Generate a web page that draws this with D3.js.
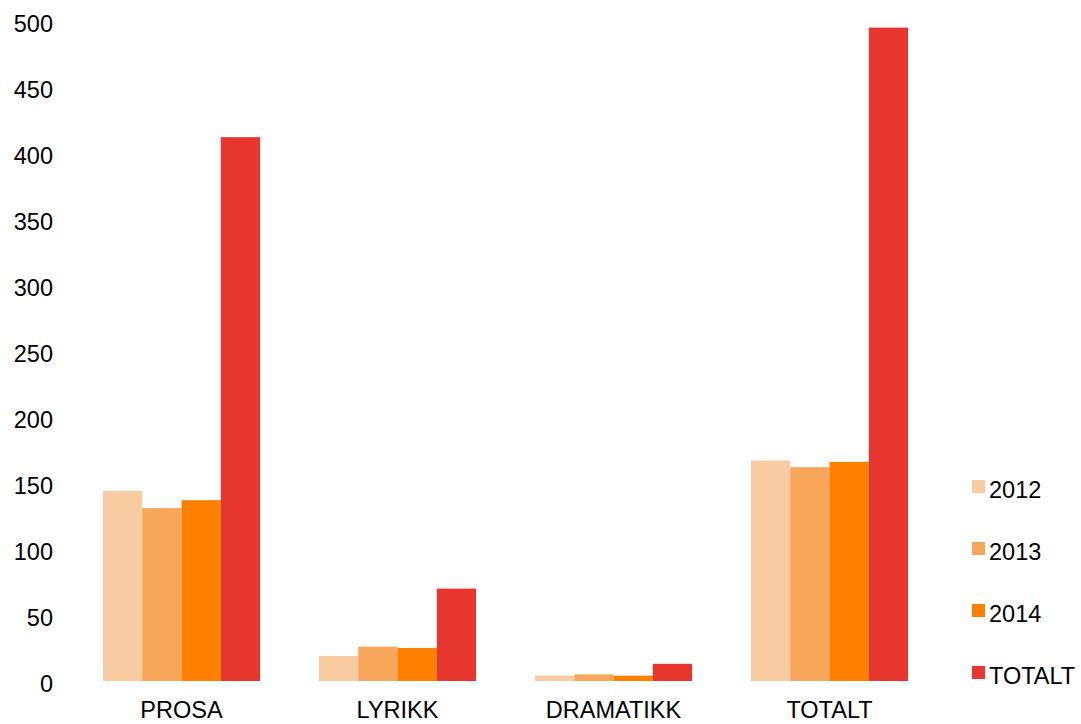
<!DOCTYPE html>
<html lang='en'>
	<head>
		<meta charset='utf-8'>
		<title>Sjanger per år</title>
		<script src="https://d3js.org/d3.v7.min.js"></script>
		<style>
			body { margin: 0; background: #fff; }
			svg text { font-family: "Liberation Sans", Arial, sans-serif; fill: #000; }
		</style>
	</head>
	<body>
		<div id="chart"></div>
		<script>
			// data
			var categories = ['PROSA', 'LYRIKK', 'DRAMATIKK', 'TOTALT'];
			var seriesNames = ['2012', '2013', '2014', 'TOTALT'];
			var v2012 = [144, 19, 4, 167];
			var v2013 = [131, 26, 5, 162];
			var v2014 = [137, 25, 4, 166];
			var vTotal = [412, 70, 13, 495];
			var yTicks = [0, 50, 100, 150, 200, 250, 300, 350, 400, 450, 500];

			var colors = ['#f9cba0', '#f7a65a', '#ff7f00', '#e7362e'];
			var seriesValues = [v2012, v2013, v2014, vTotal];

			var width = 1081,
					height = 724,
					fontSize = '23.5px';

			var svg = d3.select('#chart')
				.append('svg')
				.attr('width', width)
				.attr('height', height);

			var x = d3.scaleBand()
				.domain(categories)
				.range([73.5, 937.5])
				.paddingInner(0.273)
				.paddingOuter(0.1365);

			var xInner = d3.scaleBand()
				.domain(seriesNames)
				.range([0, x.bandwidth()]);

			var y = d3.scaleLinear()
				.domain([0, 500])
				.range([681, 21]);

			// y labels only, no axis line
			var yAxis = d3.axisLeft(y)
				.tickValues(yTicks)
				.tickSize(0)
				.tickPadding(0);

			svg.append('g')
				.attr('transform', 'translate(53, 2.5)')
				.call(yAxis)
				.call(function(g) { g.select('.domain').remove(); })
				.selectAll('text')
					.style('font-size', fontSize)
					.style('font-family', '"Liberation Sans", Arial, sans-serif')
					.attr('fill', '#000');

			var xAxis = d3.axisBottom(x)
				.tickSize(0)
				.tickPadding(0);

			svg.append('g')
				.attr('transform', 'translate(0, 701)')
				.call(xAxis)
				.call(function(g) { g.select('.domain').remove(); })
				.selectAll('text')
					.style('font-size', fontSize)
					.style('font-family', '"Liberation Sans", Arial, sans-serif')
					.attr('fill', '#000');

			var groups = svg.selectAll('.group')
				.data(categories)
				.enter()
				.append('g')
				.attr('class', 'group')
				.attr('transform', function(d) { return 'translate(' + x(d) + ',0)'; });

			groups.selectAll('rect')
				.data(function(d, i) {
					return seriesNames.map(function(s, j) {
						return { series: s, value: seriesValues[j][i], color: colors[j] };
					});
				})
				.enter()
				.append('rect')
				.attr('x', function(d) { return xInner(d.series); })
				.attr('y', function(d) { return y(d.value); })
				.attr('width', xInner.bandwidth())
				.attr('height', function(d) { return y(0) - y(d.value); })
				.style('fill', function(d) { return d.color; });

			// legend
			var legend = svg.selectAll('.legend')
				.data(seriesNames)
				.enter()
				.append('g')
				.attr('class', 'legend')
				.attr('transform', function(d, i) { return 'translate(972, ' + (480 + i * 62) + ')'; });

			legend.append('rect')
				.attr('width', 13)
				.attr('height', 13)
				.style('fill', function(d, i) { return colors[i]; });

			legend.append('text')
				.attr('x', 17)
				.attr('y', 17.5)
				.text(function(d) { return d; })
				.style('font-size', fontSize);
		</script>
	</body>
</html>
